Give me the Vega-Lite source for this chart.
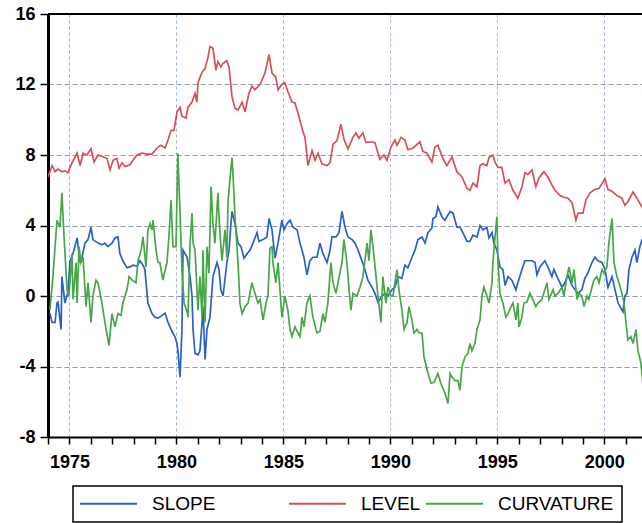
{
"$schema": "https://vega.github.io/schema/vega-lite/v6.json",
"width": 594, "height": 423,
"autosize": {"type": "none"},
"padding": {"left": 48, "top": 14, "right": 0, "bottom": 86},
"background": "white",
"config": {"view": {"stroke": null}, "font": "Liberation Sans", "legend": {"strokeColor": "black", "strokeWidth": 1.5}},
"datasets": {
"slope": [
{"year":1974.09,"value":-0.97},{"year":1974.19,"value":-1.5},{"year":1974.33,"value":-1.5},{"year":1974.42,"value":-0.4},{"year":1974.47,"value":-0.35},{"year":1974.61,"value":-1.9},{"year":1974.65,"value":1.1},{"year":1974.79,"value":-0.4},{"year":1974.93,"value":0.2},{"year":1975.03,"value":2.0},{"year":1975.17,"value":2.4},{"year":1975.36,"value":3.3},{"year":1975.5,"value":1.9},{"year":1975.59,"value":2.2},{"year":1975.73,"value":3.0},{"year":1975.87,"value":3.2},{"year":1976.01,"value":3.9},{"year":1976.1,"value":3.2},{"year":1976.34,"value":3.0},{"year":1976.52,"value":2.9},{"year":1976.66,"value":3.0},{"year":1976.8,"value":2.8},{"year":1976.99,"value":3.0},{"year":1977.13,"value":3.3},{"year":1977.27,"value":3.35},{"year":1977.36,"value":2.4},{"year":1977.5,"value":2.0},{"year":1977.69,"value":1.6},{"year":1977.83,"value":1.65},{"year":1977.97,"value":1.75},{"year":1978.16,"value":1.7},{"year":1978.3,"value":2.0},{"year":1978.44,"value":1.75},{"year":1978.53,"value":1.5},{"year":1978.67,"value":-0.4},{"year":1978.86,"value":-1.0},{"year":1979.0,"value":-1.2},{"year":1979.14,"value":-1.25},{"year":1979.33,"value":-1.1},{"year":1979.47,"value":-0.97},{"year":1979.61,"value":-1.5},{"year":1979.79,"value":-2.0},{"year":1979.93,"value":-2.3},{"year":1980.03,"value":-2.7},{"year":1980.07,"value":-3.1},{"year":1980.17,"value":-4.6},{"year":1980.26,"value":-1.9},{"year":1980.31,"value":2.6},{"year":1980.5,"value":2.2},{"year":1980.64,"value":1.1},{"year":1980.73,"value":0},{"year":1980.78,"value":-1.9},{"year":1980.87,"value":-3.25},{"year":1981.01,"value":-3.35},{"year":1981.1,"value":-3.1},{"year":1981.2,"value":-1.5},{"year":1981.24,"value":-0.6},{"year":1981.34,"value":-3.6},{"year":1981.43,"value":-1.9},{"year":1981.57,"value":-1.2},{"year":1981.71,"value":1.1},{"year":1981.9,"value":1.9},{"year":1981.99,"value":1.5},{"year":1982.08,"value":0.35},{"year":1982.18,"value":0},{"year":1982.36,"value":1.9},{"year":1982.46,"value":2.6},{"year":1982.55,"value":4.1},{"year":1982.6,"value":4.8},{"year":1982.74,"value":4.1},{"year":1982.88,"value":3.0},{"year":1983.02,"value":2.8},{"year":1983.16,"value":2.15},{"year":1983.3,"value":2.4},{"year":1983.44,"value":2.6},{"year":1983.58,"value":3.0},{"year":1983.77,"value":3.6},{"year":1983.86,"value":3.1},{"year":1984.05,"value":3.2},{"year":1984.23,"value":3.35},{"year":1984.33,"value":4.4},{"year":1984.47,"value":3.75},{"year":1984.61,"value":2.15},{"year":1984.75,"value":3.0},{"year":1984.93,"value":4.3},{"year":1985.03,"value":3.75},{"year":1985.17,"value":4.1},{"year":1985.31,"value":4.3},{"year":1985.45,"value":3.9},{"year":1985.64,"value":3.75},{"year":1985.78,"value":3.0},{"year":1985.96,"value":2.2},{"year":1986.1,"value":1.2},{"year":1986.24,"value":2.0},{"year":1986.38,"value":2.2},{"year":1986.57,"value":2.2},{"year":1986.71,"value":3.0},{"year":1986.85,"value":2.4},{"year":1987.04,"value":1.9},{"year":1987.18,"value":2.6},{"year":1987.27,"value":3.35},{"year":1987.46,"value":3.35},{"year":1987.6,"value":3.6},{"year":1987.74,"value":4.8},{"year":1987.88,"value":3.9},{"year":1988.02,"value":3.35},{"year":1988.21,"value":3.2},{"year":1988.35,"value":3.0},{"year":1988.49,"value":2.6},{"year":1988.67,"value":2.0},{"year":1988.81,"value":1.5},{"year":1988.95,"value":0.9},{"year":1989.14,"value":0.5},{"year":1989.28,"value":0.15},{"year":1989.42,"value":-0.35},{"year":1989.61,"value":0},{"year":1989.75,"value":0.15},{"year":1989.89,"value":0},{"year":1990.07,"value":0.35},{"year":1990.21,"value":0.5},{"year":1990.36,"value":1.1},{"year":1990.54,"value":1.0},{"year":1990.68,"value":1.75},{"year":1990.82,"value":1.6},{"year":1991.01,"value":2.2},{"year":1991.15,"value":2.6},{"year":1991.29,"value":3.2},{"year":1991.48,"value":3.35},{"year":1991.62,"value":3.0},{"year":1991.76,"value":3.6},{"year":1991.94,"value":3.85},{"year":1991.99,"value":4.4},{"year":1992.13,"value":4.5},{"year":1992.22,"value":5.05},{"year":1992.41,"value":4.5},{"year":1992.55,"value":4.3},{"year":1992.79,"value":4.8},{"year":1992.93,"value":4.7},{"year":1993.11,"value":3.9},{"year":1993.25,"value":3.9},{"year":1993.39,"value":3.6},{"year":1993.58,"value":3.1},{"year":1993.72,"value":3.1},{"year":1993.86,"value":3.45},{"year":1994.05,"value":3.35},{"year":1994.19,"value":4.0},{"year":1994.33,"value":3.75},{"year":1994.51,"value":3.9},{"year":1994.61,"value":3.3},{"year":1994.75,"value":3.6},{"year":1994.84,"value":3.0},{"year":1994.98,"value":2.6},{"year":1995.12,"value":1.65},{"year":1995.26,"value":1.5},{"year":1995.36,"value":0.6},{"year":1995.5,"value":1.1},{"year":1995.68,"value":0.9},{"year":1995.87,"value":0.35},{"year":1995.96,"value":0.75},{"year":1996.15,"value":1.5},{"year":1996.29,"value":2.0},{"year":1996.43,"value":2.0},{"year":1996.62,"value":2.0},{"year":1996.76,"value":1.9},{"year":1996.85,"value":1.2},{"year":1996.99,"value":1.65},{"year":1997.22,"value":2.0},{"year":1997.36,"value":1.65},{"year":1997.55,"value":1.1},{"year":1997.64,"value":1.5},{"year":1997.83,"value":1.0},{"year":1998.02,"value":0.5},{"year":1998.16,"value":0.75},{"year":1998.3,"value":1.2},{"year":1998.49,"value":0.6},{"year":1998.63,"value":0.35},{"year":1998.77,"value":0.15},{"year":1998.95,"value":0.35},{"year":1999.09,"value":1.0},{"year":1999.23,"value":1.3},{"year":1999.42,"value":1.9},{"year":1999.56,"value":2.2},{"year":1999.7,"value":2.0},{"year":1999.89,"value":1.9},{"year":2000.03,"value":1.5},{"year":2000.17,"value":0.5},{"year":2000.36,"value":1.1},{"year":2000.5,"value":0.35},{"year":2000.64,"value":-0.4},{"year":2000.87,"value":-0.9},{"year":2000.96,"value":0},{"year":2001.06,"value":0.15},{"year":2001.15,"value":1.5},{"year":2001.29,"value":2.2},{"year":2001.43,"value":2.6},{"year":2001.52,"value":1.9},{"year":2001.66,"value":2.8},{"year":2001.76,"value":3.2},{"year":2001.9,"value":3.4}
],
"level": [
{"year":1974.0,"value":6.75},{"year":1974.19,"value":7.4},{"year":1974.33,"value":7.05},{"year":1974.47,"value":7.2},{"year":1974.65,"value":7.05},{"year":1974.79,"value":7.1},{"year":1974.93,"value":7.0},{"year":1975.12,"value":7.55},{"year":1975.36,"value":8.1},{"year":1975.5,"value":7.4},{"year":1975.64,"value":8.1},{"year":1975.82,"value":8.0},{"year":1976.01,"value":8.35},{"year":1976.15,"value":7.6},{"year":1976.34,"value":8.0},{"year":1976.57,"value":7.9},{"year":1976.76,"value":7.8},{"year":1976.9,"value":7.15},{"year":1977.04,"value":7.7},{"year":1977.22,"value":7.8},{"year":1977.32,"value":7.25},{"year":1977.46,"value":7.55},{"year":1977.6,"value":7.35},{"year":1977.83,"value":7.45},{"year":1977.97,"value":7.7},{"year":1978.16,"value":8.0},{"year":1978.39,"value":8.1},{"year":1978.63,"value":8.05},{"year":1978.86,"value":8.05},{"year":1979.14,"value":8.45},{"year":1979.28,"value":8.55},{"year":1979.47,"value":8.4},{"year":1979.61,"value":8.85},{"year":1979.75,"value":9.4},{"year":1979.89,"value":9.4},{"year":1980.03,"value":10.45},{"year":1980.17,"value":10.7},{"year":1980.26,"value":10.2},{"year":1980.45,"value":10.1},{"year":1980.54,"value":10.7},{"year":1980.73,"value":11.0},{"year":1980.87,"value":11.5},{"year":1980.96,"value":11.0},{"year":1981.01,"value":12.1},{"year":1981.2,"value":12.7},{"year":1981.34,"value":12.9},{"year":1981.48,"value":13.55},{"year":1981.57,"value":14.15},{"year":1981.71,"value":14.05},{"year":1981.85,"value":12.8},{"year":1981.94,"value":13.3},{"year":1982.08,"value":13.0},{"year":1982.18,"value":13.2},{"year":1982.36,"value":13.35},{"year":1982.46,"value":13.0},{"year":1982.6,"value":11.3},{"year":1982.74,"value":10.65},{"year":1982.88,"value":10.55},{"year":1983.07,"value":11.0},{"year":1983.21,"value":10.45},{"year":1983.39,"value":11.5},{"year":1983.53,"value":11.9},{"year":1983.67,"value":11.7},{"year":1983.91,"value":12.0},{"year":1984.14,"value":12.65},{"year":1984.33,"value":13.7},{"year":1984.47,"value":12.65},{"year":1984.65,"value":12.4},{"year":1984.75,"value":11.7},{"year":1984.93,"value":12.0},{"year":1985.07,"value":12.1},{"year":1985.21,"value":11.6},{"year":1985.4,"value":11.0},{"year":1985.54,"value":10.95},{"year":1985.68,"value":10.4},{"year":1985.92,"value":9.3},{"year":1986.01,"value":9.0},{"year":1986.15,"value":7.4},{"year":1986.34,"value":8.25},{"year":1986.48,"value":7.7},{"year":1986.62,"value":8.1},{"year":1986.8,"value":7.5},{"year":1987.04,"value":7.4},{"year":1987.18,"value":7.55},{"year":1987.32,"value":8.6},{"year":1987.5,"value":8.8},{"year":1987.69,"value":9.75},{"year":1987.83,"value":8.9},{"year":1988.02,"value":8.35},{"year":1988.25,"value":9.0},{"year":1988.39,"value":9.25},{"year":1988.53,"value":8.95},{"year":1988.72,"value":9.25},{"year":1988.86,"value":8.7},{"year":1989.14,"value":8.75},{"year":1989.28,"value":8.7},{"year":1989.51,"value":7.75},{"year":1989.7,"value":8.0},{"year":1989.84,"value":7.7},{"year":1990.03,"value":8.45},{"year":1990.21,"value":8.85},{"year":1990.31,"value":8.55},{"year":1990.5,"value":9.0},{"year":1990.68,"value":8.85},{"year":1990.82,"value":8.3},{"year":1991.06,"value":8.4},{"year":1991.38,"value":8.75},{"year":1991.52,"value":8.2},{"year":1991.71,"value":8.1},{"year":1991.94,"value":7.6},{"year":1992.08,"value":8.45},{"year":1992.22,"value":8.55},{"year":1992.46,"value":7.8},{"year":1992.64,"value":7.4},{"year":1992.88,"value":7.9},{"year":1993.11,"value":7.05},{"year":1993.35,"value":6.75},{"year":1993.58,"value":6.1},{"year":1993.72,"value":6.0},{"year":1993.86,"value":6.4},{"year":1994.05,"value":6.2},{"year":1994.19,"value":7.4},{"year":1994.33,"value":7.5},{"year":1994.51,"value":7.4},{"year":1994.61,"value":7.85},{"year":1994.79,"value":8.0},{"year":1994.89,"value":7.6},{"year":1995.03,"value":7.3},{"year":1995.21,"value":7.3},{"year":1995.36,"value":6.4},{"year":1995.54,"value":6.6},{"year":1995.73,"value":6.0},{"year":1995.96,"value":5.55},{"year":1996.15,"value":6.2},{"year":1996.29,"value":7.0},{"year":1996.43,"value":6.9},{"year":1996.62,"value":7.15},{"year":1996.8,"value":6.2},{"year":1996.94,"value":6.7},{"year":1997.18,"value":7.05},{"year":1997.36,"value":6.75},{"year":1997.55,"value":6.3},{"year":1997.69,"value":6.0},{"year":1997.93,"value":5.7},{"year":1998.11,"value":5.6},{"year":1998.3,"value":5.55},{"year":1998.49,"value":5.3},{"year":1998.67,"value":4.3},{"year":1998.77,"value":4.7},{"year":1999.0,"value":4.7},{"year":1999.14,"value":5.45},{"year":1999.33,"value":5.85},{"year":1999.56,"value":6.05},{"year":1999.75,"value":6.1},{"year":2000.03,"value":6.65},{"year":2000.17,"value":6.05},{"year":2000.4,"value":5.9},{"year":2000.59,"value":5.7},{"year":2000.82,"value":5.55},{"year":2000.96,"value":5.15},{"year":2001.1,"value":5.35},{"year":2001.34,"value":5.9},{"year":2001.52,"value":5.55},{"year":2001.76,"value":5.05},{"year":2001.94,"value":5.0}
],
"curvature": [
{"year":1974.09,"value":-0.8},{"year":1974.23,"value":1.1},{"year":1974.42,"value":4.3},{"year":1974.56,"value":3.9},{"year":1974.65,"value":5.85},{"year":1974.75,"value":3.35},{"year":1974.89,"value":0.35},{"year":1974.98,"value":0},{"year":1975.12,"value":2.4},{"year":1975.17,"value":-0.2},{"year":1975.31,"value":1.9},{"year":1975.36,"value":-0.4},{"year":1975.45,"value":2.8},{"year":1975.54,"value":1.9},{"year":1975.64,"value":2.2},{"year":1975.78,"value":-0.6},{"year":1975.87,"value":0.75},{"year":1976.01,"value":-1.5},{"year":1976.1,"value":0},{"year":1976.24,"value":0.9},{"year":1976.34,"value":0.75},{"year":1976.52,"value":-0.4},{"year":1976.66,"value":-1.5},{"year":1976.85,"value":-2.8},{"year":1976.99,"value":-1.0},{"year":1977.13,"value":-1.75},{"year":1977.27,"value":-1.0},{"year":1977.41,"value":-1.1},{"year":1977.5,"value":-0.4},{"year":1977.69,"value":0.35},{"year":1977.79,"value":1.1},{"year":1977.93,"value":0.9},{"year":1978.11,"value":0.75},{"year":1978.21,"value":2.0},{"year":1978.35,"value":2.6},{"year":1978.44,"value":3.35},{"year":1978.58,"value":1.65},{"year":1978.67,"value":3.75},{"year":1978.77,"value":4.1},{"year":1978.86,"value":3.75},{"year":1978.91,"value":4.3},{"year":1979.05,"value":2.6},{"year":1979.14,"value":1.9},{"year":1979.23,"value":1.9},{"year":1979.37,"value":0.9},{"year":1979.56,"value":1.9},{"year":1979.65,"value":3.35},{"year":1979.75,"value":5.45},{"year":1979.84,"value":2.8},{"year":1979.98,"value":2.8},{"year":1980.07,"value":8.1},{"year":1980.17,"value":4.7},{"year":1980.26,"value":1.5},{"year":1980.36,"value":-0.4},{"year":1980.5,"value":-0.9},{"year":1980.54,"value":-1.2},{"year":1980.64,"value":3.0},{"year":1980.73,"value":4.7},{"year":1980.78,"value":3.0},{"year":1980.87,"value":2.6},{"year":1981.01,"value":-0.8},{"year":1981.1,"value":1.1},{"year":1981.2,"value":-1.2},{"year":1981.24,"value":2.6},{"year":1981.34,"value":-1.5},{"year":1981.43,"value":2.8},{"year":1981.52,"value":1.3},{"year":1981.62,"value":6.2},{"year":1981.71,"value":4.1},{"year":1981.8,"value":3.0},{"year":1981.94,"value":5.85},{"year":1981.99,"value":4.5},{"year":1982.08,"value":2.8},{"year":1982.13,"value":2.0},{"year":1982.27,"value":3.75},{"year":1982.36,"value":2.2},{"year":1982.41,"value":5.3},{"year":1982.5,"value":6.6},{"year":1982.6,"value":7.85},{"year":1982.64,"value":7.0},{"year":1982.74,"value":4.5},{"year":1982.88,"value":1.9},{"year":1982.97,"value":-0.4},{"year":1983.07,"value":-1.0},{"year":1983.21,"value":-0.6},{"year":1983.35,"value":-0.4},{"year":1983.53,"value":0.75},{"year":1983.67,"value":0.15},{"year":1983.81,"value":-0.4},{"year":1983.91,"value":-0.2},{"year":1984.05,"value":-1.35},{"year":1984.19,"value":-0.4},{"year":1984.28,"value":0},{"year":1984.37,"value":2.7},{"year":1984.47,"value":2.8},{"year":1984.51,"value":1.9},{"year":1984.65,"value":0.75},{"year":1984.75,"value":1.9},{"year":1984.84,"value":0.35},{"year":1984.93,"value":-1.2},{"year":1985.07,"value":0},{"year":1985.21,"value":-0.8},{"year":1985.31,"value":-1.9},{"year":1985.4,"value":-2.3},{"year":1985.54,"value":-1.75},{"year":1985.68,"value":-2.1},{"year":1985.78,"value":-2.3},{"year":1985.87,"value":-1.2},{"year":1985.96,"value":-1.75},{"year":1986.1,"value":-0.4},{"year":1986.24,"value":0},{"year":1986.38,"value":-1.2},{"year":1986.57,"value":-2.1},{"year":1986.71,"value":-2.0},{"year":1986.85,"value":-1.0},{"year":1986.94,"value":-1.5},{"year":1987.08,"value":-0.4},{"year":1987.22,"value":1.9},{"year":1987.32,"value":0.75},{"year":1987.46,"value":0.15},{"year":1987.55,"value":0.75},{"year":1987.74,"value":1.9},{"year":1987.83,"value":3.2},{"year":1987.97,"value":1.9},{"year":1988.07,"value":0.35},{"year":1988.16,"value":-0.8},{"year":1988.25,"value":0.15},{"year":1988.44,"value":0},{"year":1988.58,"value":0.5},{"year":1988.72,"value":1.1},{"year":1988.91,"value":3.0},{"year":1989.0,"value":2.0},{"year":1989.09,"value":3.75},{"year":1989.19,"value":2.8},{"year":1989.33,"value":1.1},{"year":1989.42,"value":0},{"year":1989.56,"value":-1.5},{"year":1989.65,"value":1.1},{"year":1989.79,"value":-0.4},{"year":1989.89,"value":0.5},{"year":1990.03,"value":0},{"year":1990.12,"value":0},{"year":1990.31,"value":1.5},{"year":1990.4,"value":0.35},{"year":1990.54,"value":-0.8},{"year":1990.64,"value":-1.9},{"year":1990.78,"value":-1.5},{"year":1990.87,"value":-0.6},{"year":1991.01,"value":-1.35},{"year":1991.1,"value":-2.1},{"year":1991.24,"value":-1.9},{"year":1991.34,"value":-2.1},{"year":1991.48,"value":-2.1},{"year":1991.57,"value":-3.45},{"year":1991.76,"value":-4.4},{"year":1991.9,"value":-4.95},{"year":1992.04,"value":-4.9},{"year":1992.22,"value":-4.4},{"year":1992.36,"value":-4.95},{"year":1992.55,"value":-5.5},{"year":1992.69,"value":-6.1},{"year":1992.79,"value":-4.4},{"year":1992.88,"value":-4.6},{"year":1993.02,"value":-4.8},{"year":1993.16,"value":-4.8},{"year":1993.25,"value":-5.35},{"year":1993.35,"value":-4.0},{"year":1993.49,"value":-3.45},{"year":1993.63,"value":-3.25},{"year":1993.72,"value":-2.7},{"year":1993.81,"value":-3.1},{"year":1993.95,"value":-2.7},{"year":1994.05,"value":-1.9},{"year":1994.19,"value":-1.35},{"year":1994.28,"value":0},{"year":1994.37,"value":0.5},{"year":1994.51,"value":0},{"year":1994.61,"value":-0.4},{"year":1994.75,"value":0.75},{"year":1994.79,"value":1.9},{"year":1994.89,"value":3.35},{"year":1994.98,"value":4.5},{"year":1995.03,"value":1.9},{"year":1995.12,"value":0.15},{"year":1995.26,"value":-0.4},{"year":1995.4,"value":-1.2},{"year":1995.5,"value":-1.0},{"year":1995.64,"value":-0.6},{"year":1995.73,"value":-0.4},{"year":1995.87,"value":-1.35},{"year":1995.96,"value":-0.4},{"year":1996.01,"value":-1.75},{"year":1996.15,"value":-1.2},{"year":1996.24,"value":-0.4},{"year":1996.38,"value":-0.35},{"year":1996.52,"value":0.15},{"year":1996.66,"value":-0.2},{"year":1996.8,"value":-0.6},{"year":1996.9,"value":-0.4},{"year":1997.08,"value":-0.2},{"year":1997.22,"value":0.35},{"year":1997.32,"value":0.75},{"year":1997.41,"value":-0.2},{"year":1997.6,"value":0.35},{"year":1997.69,"value":0},{"year":1997.83,"value":0.15},{"year":1998.02,"value":0.5},{"year":1998.11,"value":0},{"year":1998.25,"value":1.1},{"year":1998.35,"value":1.65},{"year":1998.49,"value":0.75},{"year":1998.58,"value":1.5},{"year":1998.72,"value":-0.2},{"year":1998.81,"value":0.15},{"year":1998.95,"value":0},{"year":1999.05,"value":-0.6},{"year":1999.19,"value":0},{"year":1999.28,"value":-0.2},{"year":1999.42,"value":0.5},{"year":1999.51,"value":0.9},{"year":1999.65,"value":1.1},{"year":1999.75,"value":0.75},{"year":1999.89,"value":1.5},{"year":1999.98,"value":1.3},{"year":2000.12,"value":1.65},{"year":2000.21,"value":3.0},{"year":2000.36,"value":4.4},{"year":2000.45,"value":1.9},{"year":2000.59,"value":1.1},{"year":2000.68,"value":0.75},{"year":2000.82,"value":0.15},{"year":2000.92,"value":-0.4},{"year":2001.01,"value":-1.5},{"year":2001.1,"value":-2.5},{"year":2001.24,"value":-2.3},{"year":2001.34,"value":-2.7},{"year":2001.48,"value":-1.9},{"year":2001.57,"value":-3.1},{"year":2001.71,"value":-3.8},{"year":2001.8,"value":-5.0}
]
},
"layer": [
{
"data": {"name": "slope"},
"mark": {"type": "line", "strokeWidth": 1.7, "clip": true},
"encoding": {
"x": {"field": "year", "type": "quantitative", "scale": {"domain": [1974, 2001.76], "nice": false, "zero": false},
"axis": {"title": null, "values": [1974,1975,1976,1977,1978,1979,1980,1981,1982,1983,1984,1985,1986,1987,1988,1989,1990,1991,1992,1993,1994,1995,1996,1997,1998,1999,2000,2001],
"tickCount": 60,
"format": "d", "labelExpr": "datum.value % 5 === 0 ? datum.label : ''",
"grid": true, "gridColor": "#9cb6cf", "gridDash": [3, 3], "gridWidth": 1,
"gridOpacity": {"condition": {"test": "datum.value % 5 === 0", "value": 1}, "value": 0},
"domainColor": "black", "domainWidth": 2, "tickColor": "black", "tickWidth": 1.5, "tickSize": 7,
"labelFont": "Liberation Sans", "labelFontWeight": "bold", "labelFontSize": 18, "labelColor": "black",
"labelPadding": 9, "labelFlush": false, "labelOverlap": false}},
"y": {"field": "value", "type": "quantitative", "scale": {"domain": [-8, 16], "nice": false, "zero": false},
"axis": {"title": null, "values": [-8, -4, 0, 4, 8, 12, 16], "labelExpr": "'' + datum.value",
"grid": true, "gridColor": "#8d9aab", "gridDash": [5, 3], "gridWidth": 1,
"domainColor": "black", "domainWidth": 3, "tickColor": "black", "tickWidth": 1.5, "tickSize": 8,
"labelFont": "Liberation Sans", "labelFontWeight": "bold", "labelFontSize": 18, "labelColor": "black",
"labelPadding": 5, "labelFlush": false, "labelOverlap": false}},
"color": {"datum": "SLOPE", "type": "nominal",
"scale": {"domain": ["SLOPE", "LEVEL", "CURVATURE"], "range": ["#2a60c8", "#d6505b", "#47a748"]},
"legend": {"title": null, "orient": "none", "legendX": 25, "legendY": 472, "direction": "horizontal",
"symbolType": "M-5,0H5", "symbolSize": 130, "symbolStrokeWidth": 2, "symbolOffset": 18,
"labelFont": "Liberation Sans", "labelFontSize": 19, "labelColor": "black", "labelOffset": 34,
"labelExpr": "datum.label == 'SLOPE' ? 'SLOPE\u00a0\u00a0\u00a0\u00a0\u00a0\u00a0\u00a0\u00a0\u00a0\u00a0\u00a0\u00a0\u00a0\u200b' : datum.label",
"labelLimit": 400,
"columnPadding": 0, "fillColor": "white", "padding": 8}}
}
},
{
"data": {"name": "level"},
"mark": {"type": "line", "strokeWidth": 1.7, "clip": true},
"encoding": {
"x": {"field": "year", "type": "quantitative"},
"y": {"field": "value", "type": "quantitative"},
"color": {"datum": "LEVEL", "type": "nominal"}
}
},
{
"data": {"name": "curvature"},
"mark": {"type": "line", "strokeWidth": 1.7, "clip": true},
"encoding": {
"x": {"field": "year", "type": "quantitative"},
"y": {"field": "value", "type": "quantitative"},
"color": {"datum": "CURVATURE", "type": "nominal"}
}
},
{
"data": {"values": [{}]},
"mark": {"type": "rule", "color": "black", "strokeWidth": 2},
"encoding": {"y": {"datum": 16, "type": "quantitative"}}
}
]
}
